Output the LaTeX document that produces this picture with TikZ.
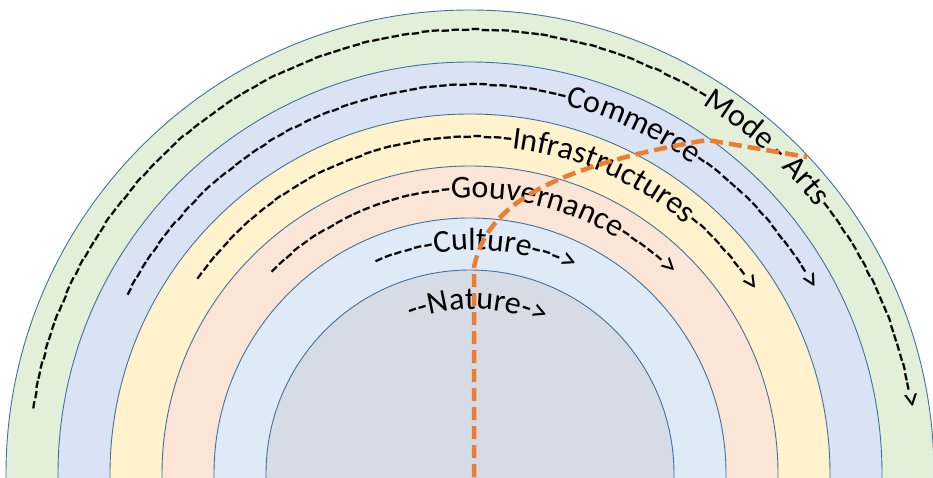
\documentclass[tikz,border=0pt]{standalone}
\usepackage{fontspec}
\newfontfamily\carlito{Carlito}
\usetikzlibrary{decorations.text}
\ExplSyntaxOn
\cs_new:Npn \myhy #1 { \prg_replicate:nn {#1} {-} }
\ExplSyntaxOff
\definecolor{ringA}{HTML}{E2F0D9}
\definecolor{ringB}{HTML}{DAE3F3}
\definecolor{ringC}{HTML}{FFF2CC}
\definecolor{ringD}{HTML}{FBE5D6}
\definecolor{ringE}{HTML}{DEEBF7}
\definecolor{ringF}{HTML}{D6DCE5}
\definecolor{ringline}{HTML}{41719C}
\definecolor{pathorange}{HTML}{ED7D31}
\tikzset{
  ring/.style={draw=ringline, line width=0.9pt},
  arctext/.style={decorate, decoration={text along path,
     text/.expanded={|\noexpand\carlito\noexpand\fontsize{32}{32}\noexpand\selectfont|#1}}},
  orangeline/.style={draw=pathorange, line width=4.5pt, dash pattern=on 13pt off 6pt}
}
\newcommand{\arclabel}[4]{% start angle, end angle, radius, text
  \path[arctext={#4}] ([shift={(#1:#3pt)}]tc) arc[start angle=#1, end angle=#2, radius=#3pt];
}
\begin{document}
\begin{tikzpicture}[x=1pt,y=1pt]
\useasboundingbox (0,0) rectangle (933,477);
\clip (0,0) rectangle (933,477);
\coordinate (c) at (470,3);
\coordinate (tc) at (473,3);
% rings
\path[ring, fill=ringA] (c) circle[radius=464pt];
\path[ring, fill=ringB] (c) circle[radius=412pt];
\path[ring, fill=ringC] (c) circle[radius=360pt];
\path[ring, fill=ringD] (c) circle[radius=308pt];
\path[ring, fill=ringE] (c) circle[radius=256pt];
\path[ring, fill=ringF] (c) circle[radius=204pt];
% arc labels
\arclabel{171.7}{2}{435}{\myhy{88}Mode - Arts\myhy{21}>}
\arclabel{152.8}{20}{380}{\myhy{52}Commerce\myhy{16}>}
\arclabel{144.9}{26}{328}{\myhy{36}Infrastructures\myhy{8}>}
\arclabel{135.2}{36}{276}{\myhy{20}Gouvernance\myhy{5}>}
\arclabel{114.9}{55}{224}{\myhy{6}Culture\myhy{3}>}
\arclabel{112.0}{56}{165}{\myhy{2}Nature\myhy{1}>}
% orange path
\coordinate (o1) at (474,0);
\coordinate (o2) at (474,210);
\coordinate (o3) at (707,337);
\coordinate (o4) at (807,320);
\draw[orangeline] (o1) -- (o2) .. controls (485,262) and (530,307) .. (o3) -- (o4);
\end{tikzpicture}
\end{document}
